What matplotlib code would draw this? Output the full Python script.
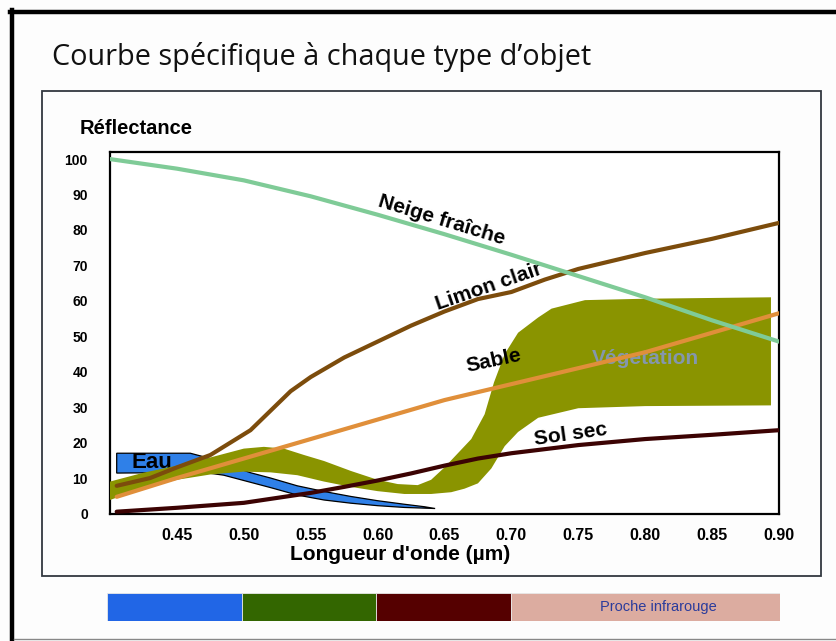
import matplotlib
matplotlib.use("Agg")
import matplotlib.pyplot as plt
from matplotlib.lines import Line2D
from matplotlib.patches import Rectangle

# Spectral signatures (wavelength in µm, reflectance in %)
neige_x = [0.40, 0.45, 0.50, 0.55, 0.60, 0.65, 0.70, 0.75, 0.80, 0.85, 0.90]
neige_y = [100, 97.3, 94, 89.5, 84.3, 78.8, 73, 67, 61, 54.5, 48.5]

limon_x = [0.405, 0.43, 0.45, 0.475, 0.49, 0.505, 0.52, 0.535, 0.55, 0.575,
           0.60, 0.625, 0.65, 0.675, 0.70, 0.725, 0.75, 0.80, 0.85, 0.90]
limon_y = [7.8, 10, 13, 16.5, 20, 23.5, 29, 34.5, 38.5, 44,
           48.5, 53, 57, 60.5, 62.5, 66, 69, 73.5, 77.5, 82]

sable_x = [0.405, 0.45, 0.50, 0.55, 0.60, 0.65, 0.70, 0.75, 0.80, 0.85, 0.90]
sable_y = [4.7, 10, 15.5, 21, 26.5, 32, 36.5, 41, 45.5, 51, 56.5]

solsec_x = [0.405, 0.45, 0.50, 0.525, 0.55, 0.575, 0.60, 0.625, 0.65, 0.675,
            0.70, 0.75, 0.80, 0.85, 0.90]
solsec_y = [0.5, 1.6, 3, 4.4, 5.8, 7.5, 9.3, 11.3, 13.5, 15.5,
            17, 19.3, 21, 22.2, 23.5]

veg_up_x = [0.40, 0.425, 0.45, 0.475, 0.50, 0.515, 0.53, 0.545, 0.56, 0.58,
            0.60, 0.615, 0.63, 0.64, 0.65, 0.66, 0.67, 0.675, 0.68, 0.687,
            0.695, 0.705, 0.72, 0.73, 0.755, 0.80, 0.894]
veg_up_y = [9, 11.5, 13.5, 15.8, 18.3, 18.8, 18.3, 16.5, 14.8, 12,
            9.5, 8.3, 8, 9.5, 13, 17, 21, 24.5, 28, 37,
            45, 51, 55.3, 57.8, 60.2, 60.6, 61]
veg_low_x = [0.40, 0.425, 0.45, 0.475, 0.50, 0.52, 0.54, 0.56, 0.58, 0.60,
             0.62, 0.64, 0.655, 0.665, 0.675, 0.685, 0.695, 0.705, 0.72, 0.75,
             0.80, 0.894]
veg_low_y = [3.8, 7.2, 9.5, 11, 11.8, 11.6, 10.8, 9, 7.5, 6.3,
             5.5, 5.5, 6, 7, 8.5, 12.7, 19, 23, 27, 29.7,
             30.3, 30.5]

eau_up_x = [0.405, 0.46, 0.475, 0.49, 0.505, 0.52, 0.54, 0.56, 0.58, 0.60,
            0.62, 0.635, 0.643]
eau_up_y = [17, 17, 15.5, 13.5, 11.5, 10, 7.8, 6.2, 4.8, 3.6,
            2.6, 1.9, 1.4]
eau_low_x = [0.405, 0.47, 0.485, 0.50, 0.52, 0.54, 0.56, 0.58, 0.60, 0.62, 0.643]
eau_low_y = [11.4, 11.6, 10.8, 9.3, 7.3, 5.2, 3.8, 2.9, 2.2, 1.7, 1.4]

x_ticks = [0.45, 0.50, 0.55, 0.60, 0.65, 0.70, 0.75, 0.80, 0.85, 0.90]
y_ticks = [0, 10, 20, 30, 40, 50, 60, 70, 80, 90, 100]

# spectral bands shown under the plot
band_edges = [0.40, 0.50, 0.60, 0.70, 0.90]
band_colors = ["#2166e6", "#336600", "#550000", "#dcaca0"]

W, H = 837, 641


def fx(px):
    return px / W


def fy(py):
    return 1 - py / H


fig = plt.figure(figsize=(W / 100, H / 100), dpi=100)
fig.patch.set_facecolor("#fdfdfd")

# slide frame
fig.add_artist(Line2D([fx(10), 1], [fy(12), fy(12)], color="black", lw=3.2))
fig.add_artist(Line2D([fx(12), fx(12)], [0, fy(10)], color="black", lw=3.2))
fig.add_artist(Line2D([fx(14), 1], [fy(638.5), fy(638.5)], color="#888888", lw=1))
fig.add_artist(Rectangle((fx(42), fy(576)), fx(821) - fx(42), fy(91) - fy(576),
                         fill=False, edgecolor="#333840", lw=1.3))

fig.text(fx(52), fy(57), "Courbe spécifique à chaque type d’objet",
         family="Open Sans", fontsize=20.8, ha="left", va="center", color="#111111")

ax = fig.add_axes([fx(110), fy(514), fx(779) - fx(110), fy(152) - fy(514)])
ax.set_facecolor("white")
ax.set_xlim(0.40, 0.90)
ax.set_ylim(-0.15, 102)
for s in ax.spines.values():
    s.set_linewidth(1.6)
    s.set_color("black")

ax.fill(eau_up_x + eau_low_x[::-1], eau_up_y + eau_low_y[::-1],
        facecolor="#2f80e8", edgecolor="black", lw=0.9, zorder=1)
ax.text(0.431, 14.3, "Eau", family="Liberation Sans", weight="bold", fontsize=16,
        ha="center", va="center", zorder=2)

ax.fill(veg_up_x + veg_low_x[::-1], veg_up_y + veg_low_y[::-1],
        facecolor="#8a9400", edgecolor="none", zorder=3)
ax.text(0.80, 43.6, "Végetation", family="Liberation Sans", weight="bold",
        fontsize=15, color="#8497ad", ha="center", va="center", zorder=3.5)

ax.plot(solsec_x, solsec_y, color="#3c0303", lw=3, solid_capstyle="round", zorder=4)
ax.plot(limon_x, limon_y, color="#7c4c0c", lw=3, solid_capstyle="round", zorder=4)
ax.plot(sable_x, sable_y, color="#e08f3a", lw=3, solid_capstyle="round", zorder=5)

label_style = dict(family="Liberation Sans", weight="bold", fontsize=15,
                   ha="center", va="center", rotation_mode="anchor", zorder=5.5)
ax.text(0.648, 82.8, "Neige fraîche", rotation=-17, **label_style)
ax.text(0.683, 64.0, "Limon clair", rotation=19, **label_style)
ax.text(0.687, 43.2, "Sable", rotation=12, **label_style)
ax.text(0.744, 22.2, "Sol sec", rotation=8, **label_style)

ax.plot(neige_x, neige_y, color="#7fcb97", lw=3, solid_capstyle="round", zorder=6)

ax.set_xticks(x_ticks)
ax.set_xticklabels([f"{v:.2f}" for v in x_ticks], family="Liberation Sans",
                   weight="bold", fontsize=11.5)
ax.set_yticks(y_ticks)
ax.set_yticklabels([str(v) for v in y_ticks], family="Liberation Sans",
                   weight="bold", fontsize=10)
ax.tick_params(axis="x", length=0, pad=10)
ax.tick_params(axis="y", length=0, pad=16)

fig.text(fx(400), fy(554), "Longueur d'onde (µm)", family="Liberation Sans",
         weight="bold", fontsize=15, ha="center", va="center")
fig.text(fx(80), fy(128), "Réflectance", family="Liberation Sans",
         weight="bold", fontsize=14.5, ha="left", va="center")

# colour strip for the spectral domains
bx = fig.add_axes([fx(107), fy(621), fx(780) - fx(107), fy(593) - fy(621)])
bx.set_xlim(band_edges[0], band_edges[-1])
bx.set_ylim(0, 1)
for lo, hi, c in zip(band_edges[:-1], band_edges[1:], band_colors):
    bx.add_patch(Rectangle((lo, 0), hi - lo, 1, facecolor=c,
                           edgecolor="#e8e8e8", lw=0.6))
bx.text(0.81, 0.5, "Proche infrarouge", family="Liberation Sans", fontsize=10.5,
        color="#2b3c9c", ha="center", va="center")
bx.axis("off")

fig.savefig("out.png", dpi=100, facecolor=fig.get_facecolor())
